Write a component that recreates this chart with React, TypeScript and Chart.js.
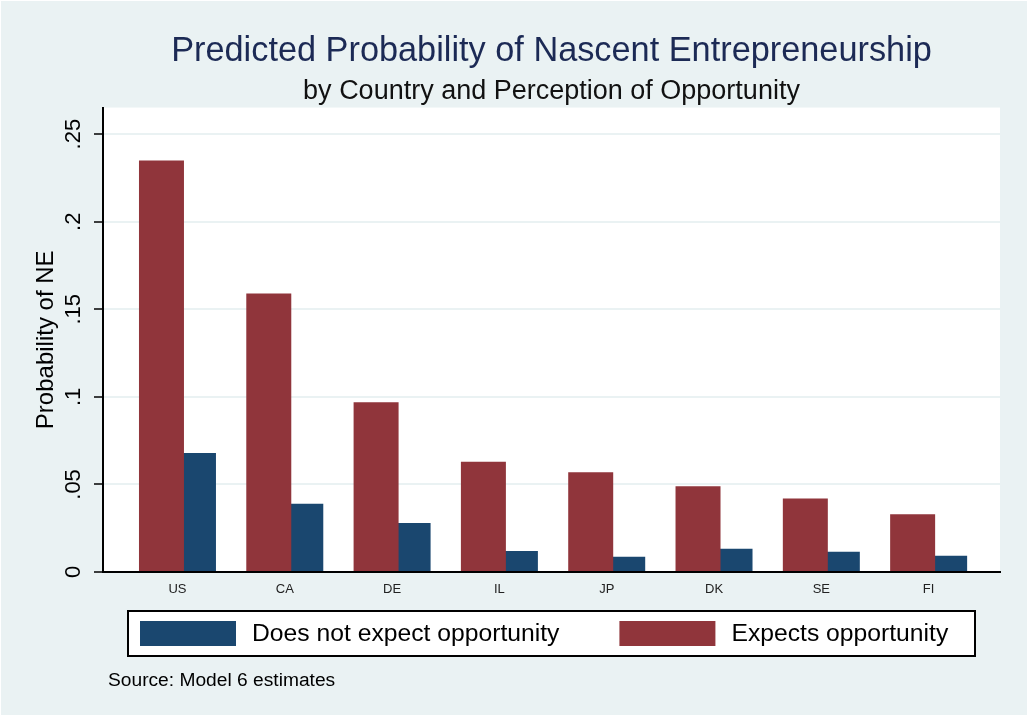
import React, { useEffect, useRef } from 'react';
import { Chart, registerables } from 'chart.js';

Chart.register(...registerables);

// ---------- data ----------
const categories = ['US', 'CA', 'DE', 'IL', 'JP', 'DK', 'SE', 'FI'];
const expectsOpportunity = [0.235, 0.159, 0.097, 0.063, 0.057, 0.049, 0.042, 0.033];
const doesNotExpectOpportunity = [0.068, 0.039, 0.028, 0.012, 0.0087, 0.0133, 0.0116, 0.0093];
const seriesLabels = ['Expects opportunity', 'Does not expect opportunity'];
const yTickLabels = ['0', '.05', '.1', '.15', '.2', '.25'];
const titleText = 'Predicted Probability of Nascent Entrepreneurship';
const subtitleText = 'by Country and Perception of Opportunity';
const yAxisTitle = 'Probability of NE';
const sourceNote = 'Source: Model 6 estimates';

// ---------- styles ----------
const FONT = '"Liberation Sans", Arial, Helvetica, sans-serif';
const RED = '#90353B';
const BLUE = '#1A476F';
const BG = '#EAF2F3';
const W = 1029;
const H = 717;

const backgroundPlugin = {
  id: 'stataBackground',
  beforeDraw(chart: any) {
    const { ctx, width, height, chartArea } = chart;
    ctx.save();
    ctx.fillStyle = '#ffffff';
    ctx.fillRect(0, 0, width, height);
    ctx.fillStyle = BG;
    ctx.fillRect(1, 1, width - 3, height - 3);
    ctx.fillStyle = '#ffffff';
    ctx.fillRect(chartArea.left, chartArea.top, chartArea.right - chartArea.left, chartArea.bottom - chartArea.top);
    ctx.restore();
  },
};

const legendAndNotePlugin = {
  id: 'stataLegend',
  afterDraw(chart: any) {
    const { ctx } = chart;
    ctx.save();
    // legend box
    const boxL = 128, boxT = 611, boxW = 847, boxH = 45;
    ctx.fillStyle = '#ffffff';
    ctx.fillRect(boxL, boxT, boxW, boxH);
    ctx.strokeStyle = '#000000';
    ctx.lineWidth = 2;
    ctx.strokeRect(boxL, boxT, boxW, boxH);
    // legend items: reverse dataset order (blue first)
    ctx.font = `24.7px ${FONT}`;
    ctx.textBaseline = 'middle';
    ctx.textAlign = 'left';
    let x = 140;
    const order = [1, 0];
    for (const di of order) {
      const ds = chart.data.datasets[di];
      ctx.fillStyle = ds.backgroundColor;
      ctx.fillRect(x, 621, 96, 25);
      ctx.fillStyle = '#000000';
      ctx.fillText(ds.label, x + 112, 634);
      x += 112 + ctx.measureText(ds.label).width + 60;
    }
    // source note
    ctx.font = `19.2px ${FONT}`;
    ctx.textBaseline = 'alphabetic';
    ctx.fillStyle = '#000000';
    ctx.fillText(sourceNote, 108, 686);
    ctx.restore();
  },
};

export default function App() {
  const canvasRef = useRef<HTMLCanvasElement | null>(null);

  useEffect(() => {
    const canvas = canvasRef.current;
    if (!canvas) return;
    const chart = new Chart(canvas, {
      type: 'bar',
      data: {
        datasets: [
          {
            label: seriesLabels[0],
            data: categories.map((_, i) => ({ x: i, y: expectsOpportunity[i] })),
            backgroundColor: RED,
            borderWidth: 0,
          },
          {
            label: seriesLabels[1],
            data: categories.map((_, i) => ({ x: i, y: doesNotExpectOpportunity[i] })),
            backgroundColor: BLUE,
            borderWidth: 0,
          },
        ],
      },
      options: {
        responsive: false,
        devicePixelRatio: 1,
        animation: false,
        categoryPercentage: 0.5964,
        barPercentage: 1.406,
        layout: { padding: { left: 0, right: 29, top: 0, bottom: 0 } },
        plugins: {
          legend: { display: false },
          tooltip: { enabled: false },
          title: {
            display: true,
            text: titleText,
            fullSize: false,
            color: '#1C2A55',
            font: { family: FONT, size: 34.3, weight: 'normal', lineHeight: 1.2 },
            padding: { top: 31, bottom: 0 },
          },
          subtitle: {
            display: true,
            text: subtitleText,
            fullSize: false,
            color: '#111111',
            font: { family: FONT, size: 27, weight: 'normal', lineHeight: 1.2 },
            padding: { top: 3, bottom: 0 },
          },
        },
        scales: {
          x: {
            type: 'linear',
            min: -0.694,
            max: 7.665,
            offset: false,
            grid: { display: false, drawTicks: false },
            border: { display: true, color: '#000000', width: 2 },
            ticks: {
              stepSize: 1,
              includeBounds: false,
              autoSkip: false,
              maxRotation: 0,
              padding: 10,
              color: '#222222',
              font: { family: FONT, size: 13 },
              callback: (v: any) => (Number.isInteger(v) ? categories[v] : ''),
            },
            afterFit: (scale: any) => {
              scale.height = 145;
            },
          },
          y: {
            type: 'linear',
            min: 0,
            max: 0.2652,
            grid: {
              color: BG,
              lineWidth: 2,
              drawTicks: true,
              tickLength: 9,
              tickColor: '#000000',
              tickWidth: 1.5,
            },
            border: { display: true, color: '#000000', width: 2 },
            ticks: {
              stepSize: 0.05,
              includeBounds: false,
              autoSkip: false,
              minRotation: 90,
              maxRotation: 90,
              crossAlign: 'center',
              padding: 5,
              color: '#000000',
              font: { family: FONT, size: 22 },
              callback: (v: any) => yTickLabels[Math.round(Number(v) * 20)] ?? '',
            },
            title: {
              display: true,
              text: yAxisTitle,
              color: '#000000',
              font: { family: FONT, size: 24, lineHeight: 1.2 },
              padding: { top: 32, bottom: 0 },
            },
            afterFit: (scale: any) => {
              scale.width = 103;
            },
          },
        },
      } as any,
      plugins: [backgroundPlugin, legendAndNotePlugin],
    });
    return () => chart.destroy();
  }, []);

  return (
    <div style={{ position: 'fixed', left: 0, top: 0, width: W, height: H, background: '#ffffff' }}>
      <canvas ref={canvasRef} width={W} height={H} style={{ display: 'block', width: W, height: H }} />
    </div>
  );
}
